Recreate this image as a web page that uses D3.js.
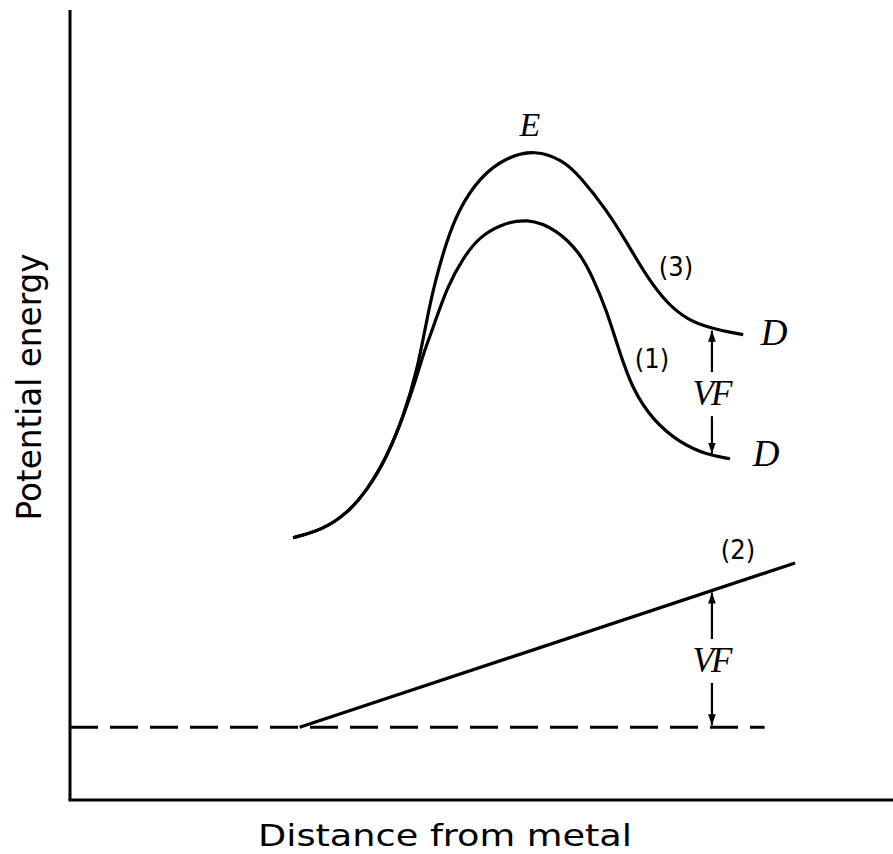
<!DOCTYPE html>
<html>
<head>
<meta charset="utf-8">
<title>Potential energy vs distance</title>
<script src="https://d3js.org/d3.v7.min.js"></script>
<style>
  body { margin: 0; background: #fff; }
  .lbl { font-family: "DejaVu Sans Condensed", "DejaVu Sans", sans-serif; fill: #000; }
  .math { font-family: "Liberation Serif", "DejaVu Serif", serif; font-style: italic; fill: #000; }
</style>
</head>
<body>
<script>
// schematic data, arbitrary units (distance 0..10, energy 0..10)
// curve (3): with field applied
var curve3X = [2.71, 3.07, 3.37, 3.61, 3.85, 4.05, 4.22, 4.34, 4.44, 4.57, 4.71, 4.98, 5.31, 5.65, 5.99, 6.20, 6.52, 6.77, 7.01, 7.25, 7.50, 7.78, 8.18];
var curve3Y = [3.32, 3.42, 3.63, 3.92, 4.34, 4.85, 5.44, 6.11, 6.58, 7.05, 7.45, 7.89, 8.14, 8.23, 8.10, 7.89, 7.47, 7.05, 6.62, 6.29, 6.08, 5.97, 5.89];

// curve (1): no field
var curve1X = [2.71, 3.07, 3.37, 3.61, 3.85, 4.05, 4.22, 4.31, 4.41, 4.58, 4.78, 4.98, 5.22, 5.55, 5.92, 6.20, 6.35, 6.52, 6.68, 6.84, 7.08, 7.41, 7.74, 8.02];
var curve1Y = [3.32, 3.42, 3.63, 3.92, 4.34, 4.85, 5.38, 5.70, 5.97, 6.49, 6.87, 7.13, 7.28, 7.37, 7.22, 6.92, 6.62, 6.20, 5.66, 5.19, 4.81, 4.52, 4.37, 4.32];

// line (2): field potential
var line2X = [2.79, 8.81];
var line2Y = [0.92, 3.0];

var baseX = [0, 8.44];
var baseY = 0.92;

var vfX = 7.8;

var width = 893, height = 854;

var x = d3.scaleLinear().domain([0, 10]).range([70, 893]);
var y = d3.scaleLinear().domain([0, 10]).range([800, 10]);

var svg = d3.select('body').append('svg')
    .attr('width', width)
    .attr('height', height);

svg.append('defs').append('marker')
    .attr('id', 'arr')
    .attr('viewBox', '0 0 10 10')
    .attr('refX', 10).attr('refY', 5)
    .attr('markerWidth', 11).attr('markerHeight', 11)
    .attr('markerUnits', 'userSpaceOnUse')
    .attr('orient', 'auto')
  .append('path')
    .attr('d', 'M0,1.5 L10,5 L0,8.5 Z')
    .attr('fill', '#000');

// axes, no ticks
svg.append('line')
    .attr('x1', x(0)).attr('x2', x(0))
    .attr('y1', y(10)).attr('y2', y(0))
    .attr('stroke', '#000').attr('stroke-width', 3);
svg.append('line')
    .attr('x1', x(0) - 1.5).attr('x2', x(10))
    .attr('y1', y(0)).attr('y2', y(0))
    .attr('stroke', '#000').attr('stroke-width', 3);

// dashed level
svg.append('line')
    .attr('x1', x(baseX[0])).attr('x2', x(baseX[1]))
    .attr('y1', y(baseY)).attr('y2', y(baseY))
    .attr('stroke', '#000').attr('stroke-width', 3)
    .attr('stroke-dasharray', '28,12');

var line = d3.line()
    .x(function(d) { return x(d[0]); })
    .y(function(d) { return y(d[1]); })
    .curve(d3.curveBasis);

var c3 = d3.zip(curve3X, curve3Y);
var c1 = d3.zip(curve1X, curve1Y);

svg.append('path')
    .datum(c3)
    .attr('d', line)
    .attr('fill', 'none').attr('stroke', '#000').attr('stroke-width', 3.2);

svg.append('path')
    .datum(c1)
    .attr('d', line)
    .attr('fill', 'none').attr('stroke', '#000').attr('stroke-width', 3.2);

svg.append('path')
    .datum(d3.zip(line2X, line2Y))
    .attr('d', d3.line().x(function(d) { return x(d[0]); }).y(function(d) { return y(d[1]); }))
    .attr('fill', 'none').attr('stroke', '#000').attr('stroke-width', 3.2);

function yOnCurve(pts, xv) {
  for (var i = 0; i < pts.length - 1; i++) {
    if (xv >= pts[i][0] && xv <= pts[i + 1][0]) {
      var t = (xv - pts[i][0]) / (pts[i + 1][0] - pts[i][0]);
      return pts[i][1] + t * (pts[i + 1][1] - pts[i][1]);
    }
  }
  return pts[pts.length - 1][1];
}

function vfArrow(yTop, yBot) {
  var top = y(yTop), bot = y(yBot), mid = (top + bot) / 2;
  svg.append('line')
      .attr('x1', x(vfX)).attr('x2', x(vfX))
      .attr('y1', mid - 20).attr('y2', top + 2)
      .attr('stroke', '#000').attr('stroke-width', 2.2)
      .attr('marker-end', 'url(#arr)');
  svg.append('line')
      .attr('x1', x(vfX)).attr('x2', x(vfX))
      .attr('y1', mid + 24).attr('y2', bot - 2)
      .attr('stroke', '#000').attr('stroke-width', 2.2)
      .attr('marker-end', 'url(#arr)');
  svg.append('text')
      .attr('class', 'math')
      .attr('x', x(vfX) - 1).attr('y', mid + 13)
      .attr('text-anchor', 'middle')
      .attr('font-size', 35)
      .attr('letter-spacing', -3)
      .text('VF');
}

vfArrow(yOnCurve(c3, vfX), yOnCurve(c1, vfX));
vfArrow(line2Y[0] + (vfX - line2X[0]) / (line2X[1] - line2X[0]) * (line2Y[1] - line2Y[0]), baseY);

// curve labels
svg.append('text').attr('class', 'math')
    .attr('x', 530).attr('y', 136)
    .attr('text-anchor', 'middle').attr('font-size', 34)
    .text('E');
svg.append('text').attr('class', 'math')
    .attr('x', 774).attr('y', 345)
    .attr('text-anchor', 'middle').attr('font-size', 37)
    .text('D');
svg.append('text').attr('class', 'math')
    .attr('x', 766).attr('y', 466)
    .attr('text-anchor', 'middle').attr('font-size', 37)
    .text('D');

svg.append('text').attr('class', 'lbl')
    .attr('x', 676).attr('y', 276)
    .attr('text-anchor', 'middle').attr('font-size', 27)
    .text('(3)');
svg.append('text').attr('class', 'lbl')
    .attr('x', 652).attr('y', 368)
    .attr('text-anchor', 'middle').attr('font-size', 27)
    .text('(1)');
svg.append('text').attr('class', 'lbl')
    .attr('x', 738).attr('y', 559)
    .attr('text-anchor', 'middle').attr('font-size', 27)
    .text('(2)');

// axis titles
svg.append('text').attr('class', 'lbl')
    .attr('x', 445).attr('y', 846)
    .attr('text-anchor', 'middle').attr('font-size', 31)
    .attr('textLength', 374).attr('lengthAdjust', 'spacingAndGlyphs')
    .text('Distance  from  metal');
svg.append('text').attr('class', 'lbl')
    .attr('transform', 'translate(41,387) rotate(-90)')
    .attr('text-anchor', 'middle').attr('font-size', 33)
    .attr('textLength', 267).attr('lengthAdjust', 'spacingAndGlyphs')
    .text('Potential  energy');
</script>
</body>
</html>
